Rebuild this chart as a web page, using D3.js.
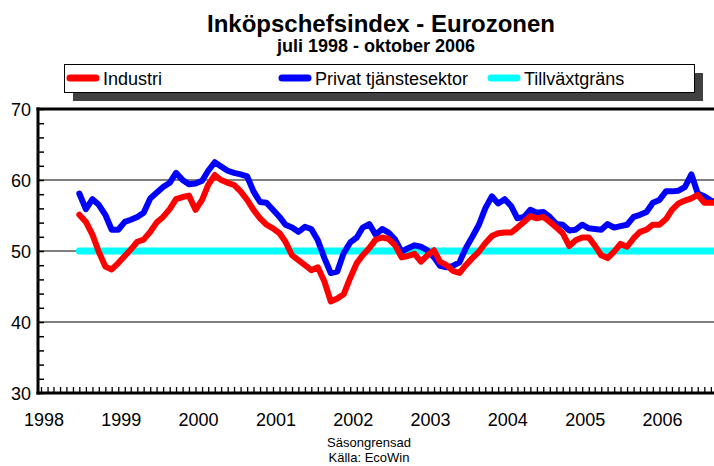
<!DOCTYPE html>
<html><head><meta charset="utf-8">
<script src="https://cdn.jsdelivr.net/npm/d3@7"></script>
<style>body{margin:0;background:#fff} svg{display:block;font-family:"Liberation Sans",Arial,sans-serif}</style>
</head><body><svg id="c" width="714" height="466"></svg>
<script>
// ---- data ----
const firstMonth = new Date(1998, 6, 1);   // juli 1998
const lastMonth = new Date(2006, 9, 1);    // oktober 2006
const industri = [55.1,54.1,52.3,49.9,47.8,47.4,48.3,49.3,50.2,51.3,51.6,52.7,
  54.0,54.8,55.9,57.3,57.6,57.8,55.8,57.2,59.3,60.7,60.0,59.6,
  59.3,58.4,57.2,55.8,54.6,53.7,53.2,52.5,51.3,49.4,48.7,48.0,
  47.3,47.7,45.7,42.9,43.3,43.9,46.2,48.3,49.4,50.4,51.6,51.9,
  51.7,50.8,49.1,49.3,49.6,48.5,49.4,50.1,48.5,48.0,47.2,46.9,
  48.0,49.0,49.9,51.1,52.1,52.5,52.6,52.6,53.3,54.1,54.9,54.6,
  54.8,54.1,53.3,52.5,50.7,51.5,51.9,51.9,50.8,49.4,49.0,49.9,
  51.0,50.6,51.8,52.7,53.0,53.7,53.7,54.5,55.8,56.7,57.1,57.4,
  57.9,56.8,56.8,56.8];
const privat = [58.1,55.9,57.3,56.5,55.1,53.0,53.0,54.1,54.4,54.8,55.4,57.4,
  58.2,59.0,59.6,61.0,60.0,59.4,59.5,59.9,61.3,62.5,61.9,61.3,
  61.0,60.8,60.5,58.4,56.9,56.8,55.8,54.8,53.7,53.3,52.7,53.4,
  53.1,51.5,49.0,46.9,47.1,49.7,51.2,51.9,53.3,53.8,52.3,53.1,
  52.6,51.6,49.9,50.4,50.8,50.6,50.1,49.1,47.9,47.7,47.9,48.4,
  50.4,52.0,53.7,56.0,57.7,56.7,57.3,56.3,54.6,54.8,55.8,55.4,
  55.5,54.8,53.8,53.7,52.9,53.0,53.7,53.2,53.1,53.0,53.8,53.3,
  53.5,53.7,54.8,55.1,55.5,56.8,57.2,58.4,58.4,58.5,59.0,60.8,
  58.1,57.7,57.1,56.8];
const tillvaxtgrans = 50;
const yTickValues = [30, 40, 50, 60, 70];
const yGridValues = [40, 50, 60];
const yearLabels = ["1998","1999","2000","2001","2002","2003","2004","2005","2006"];
const seriesNames = ["Industri", "Privat tjänstesektor", "Tillväxtgräns"];
const seriesColors = ["#ff0000", "#0000ff", "#00ffff"];
const titleText = "Inköpschefsindex - Eurozonen";
const subtitleText = "juli 1998 - oktober 2006";
const noteLines = ["Säsongrensad", "Källa: EcoWin"];

// ---- scales ----
const svg = d3.select("#c");
const W = 714, H = 466;
const plotLeft = 38, plotRight = 714, plotTop = 109, plotBottom = 393;
const x = d3.scaleTime().domain([new Date(1998,0,1), new Date(2007,0,1)]).range([41, 41 + 9*77.3]);
const y = d3.scaleLinear().domain([30, 70]).range([plotBottom, plotTop]);
const months = d3.timeMonth.range(firstMonth, d3.timeMonth.offset(lastMonth, 1));

// ---- title ----
svg.append("text").attr("x", 381).attr("y", 32).attr("text-anchor", "middle")
  .attr("font-size", 24).attr("font-weight", "bold").text(titleText);
svg.append("text").attr("x", 376).attr("y", 52).attr("text-anchor", "middle")
  .attr("font-size", 18).attr("font-weight", "bold").text(subtitleText);

// ---- legend ----
svg.append("rect").attr("x", 73).attr("y", 73).attr("width", 630).attr("height", 28).attr("fill", "#404040");
svg.append("rect").attr("x", 64.5).attr("y", 64.5).attr("width", 630).attr("height", 28)
  .attr("fill", "#fff").attr("stroke", "#000").attr("stroke-width", 1);
const legX = [70, 282, 491];
seriesNames.forEach((n, i) => {
  svg.append("line").attr("x1", legX[i]).attr("x2", legX[i] + 26).attr("y1", 78).attr("y2", 78)
    .attr("stroke", seriesColors[i]).attr("stroke-width", 7).attr("stroke-linecap", "round");
  svg.append("text").attr("x", legX[i] + 33).attr("y", 84.5).attr("font-size", 18).text(n);
});

// ---- grid ----
svg.selectAll(".grid").data(yGridValues).join("line")
  .attr("x1", plotLeft).attr("x2", plotRight).attr("y1", d => y(d)).attr("y2", d => y(d))
  .attr("stroke", "#000").attr("stroke-width", 1.2);

// ---- series ----
const clip = svg.append("clipPath").attr("id", "clp").append("rect")
  .attr("x", plotLeft).attr("y", plotTop - 10).attr("width", plotRight - plotLeft).attr("height", plotBottom - plotTop + 10);
const g = svg.append("g").attr("clip-path", "url(#clp)");
const line = d3.line().x(d => x(d[0])).y(d => y(d[1])).curve(d3.curveLinear);
g.append("path").datum([[months[0], tillvaxtgrans], [months[months.length-1], tillvaxtgrans]])
  .attr("d", line).attr("fill", "none").attr("stroke", seriesColors[2]).attr("stroke-width", 7).attr("stroke-linecap", "round");
g.append("path").datum(months.map((m, i) => [m, privat[i]]))
  .attr("d", line).attr("fill", "none").attr("stroke", seriesColors[1]).attr("stroke-width", 6)
  .attr("stroke-linejoin", "round").attr("stroke-linecap", "round");
g.append("path").datum(months.map((m, i) => [m, industri[i]]))
  .attr("d", line).attr("fill", "none").attr("stroke", seriesColors[0]).attr("stroke-width", 6)
  .attr("stroke-linejoin", "round").attr("stroke-linecap", "round");

// ---- axes ----
// top frame
svg.append("line").attr("x1", plotLeft - 1.5).attr("x2", plotRight).attr("y1", plotTop).attr("y2", plotTop)
  .attr("stroke", "#000").attr("stroke-width", 3);
// y axis
const yAxis = d3.axisRight(y).tickValues(d3.range(30, 71, 2)).tickSize(6).tickFormat("");
const ya = svg.append("g").attr("transform", `translate(${plotLeft},0)`).call(yAxis);
ya.select(".domain").remove();
ya.selectAll(".tick line").attr("stroke", "#000").attr("stroke-width", 1.5);
svg.append("line").attr("x1", plotLeft).attr("x2", plotLeft).attr("y1", plotTop - 1.5).attr("y2", plotBottom + 1.5)
  .attr("stroke", "#000").attr("stroke-width", 3);
svg.selectAll(".ylab").data(yTickValues).join("text")
  .attr("x", 31).attr("y", d => y(d) + 7).attr("text-anchor", "end").attr("font-size", 18).text(d => d);
// x axis
const xAxis = d3.axisTop(x).ticks(d3.timeMonth.every(1)).tickSize(6).tickFormat("");
const xa = svg.append("g").attr("transform", `translate(0,${plotBottom})`).call(xAxis);
xa.select(".domain").remove();
xa.selectAll(".tick line").attr("stroke", "#000").attr("stroke-width", 1.3);
svg.append("line").attr("x1", plotLeft - 1.5).attr("x2", plotRight).attr("y1", plotBottom).attr("y2", plotBottom)
  .attr("stroke", "#000").attr("stroke-width", 3);
svg.selectAll(".xlab").data(yearLabels).join("text")
  .attr("x", d => x(new Date(+d, 0, 1)) + 3).attr("y", 426).attr("text-anchor", "middle")
  .attr("font-size", 18).text(d => d);

// ---- notes ----
svg.selectAll(".note").data(noteLines).join("text")
  .attr("x", 369).attr("y", (d, i) => 447 + i * 15).attr("text-anchor", "middle")
  .attr("font-size", 13).text(d => d);
</script></body></html>
